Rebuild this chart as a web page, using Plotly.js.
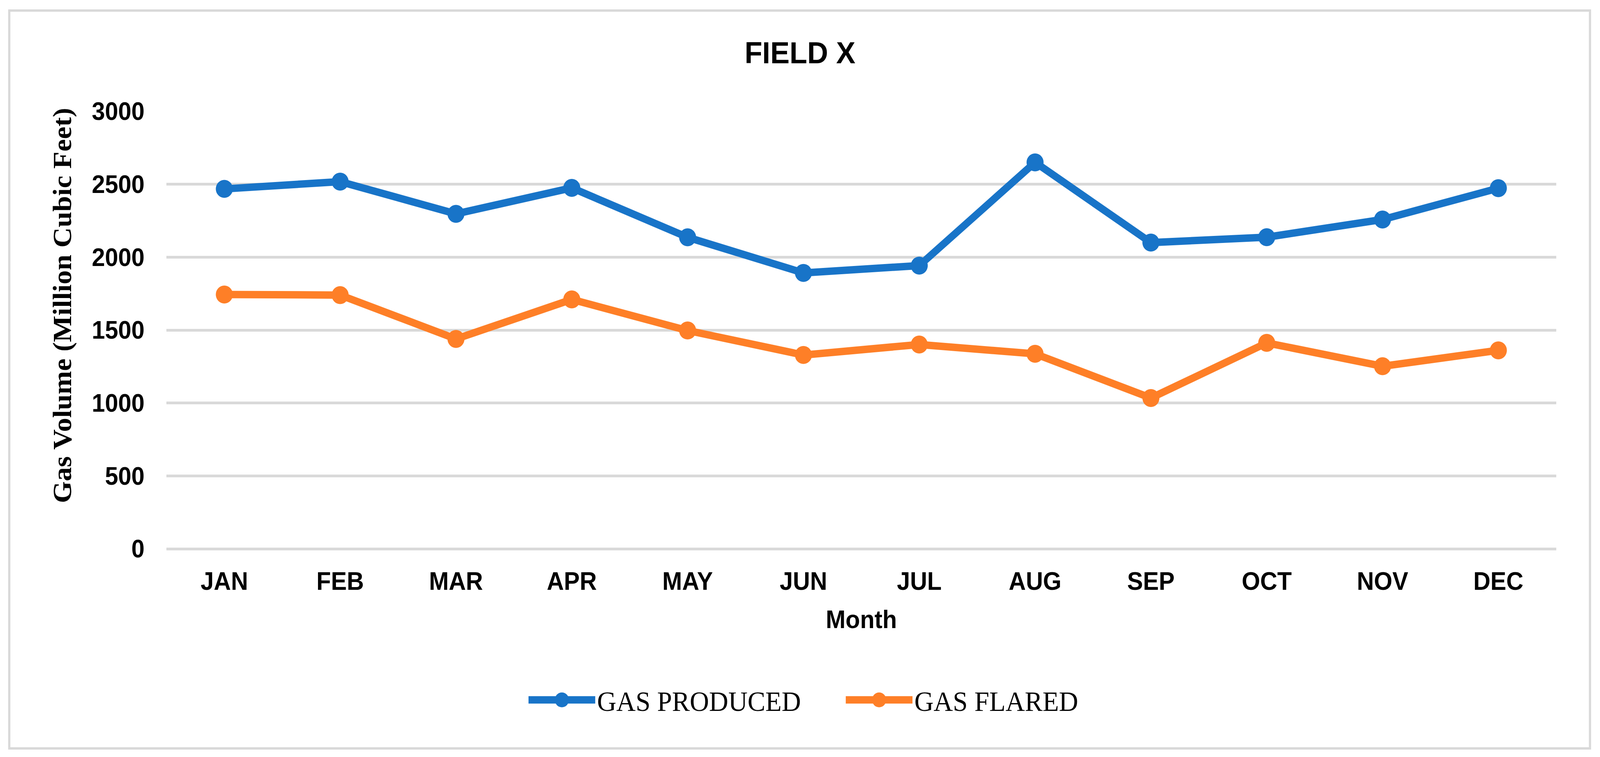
<!DOCTYPE html>
<html>
<head>
<meta charset="utf-8">
<script src="https://cdn.plot.ly/plotly-3.0.1.min.js"></script>
<style>
  html, body { margin: 0; padding: 0; background: #ffffff; overflow: hidden; }
  #chart { width: 4317px; height: 1938px; transform-origin: 0 0; }
</style>
</head>
<body>
<div id="chart"></div>
<script>
const months = ["JAN", "FEB", "MAR", "APR", "MAY", "JUN", "JUL", "AUG", "SEP", "OCT", "NOV", "DEC"];
const gasProduced = [2468, 2518, 2297, 2475, 2136, 1892, 1942, 2650, 2100, 2137, 2258, 2473];
const gasFlared = [1744, 1740, 1439, 1710, 1497, 1329, 1401, 1337, 1034, 1412, 1252, 1361];
const yTicks = [0, 500, 1000, 1500, 2000, 2500, 3000];

const seriesNames = ["GAS PRODUCED", "GAS FLARED"];
const seriesColors = ["#1874C8", "#FE7F27"];

const W = 4317, H = 1938;
const M = { l: 449, r: 118, t: 285, b: 533 };
const pw = W - M.l - M.r, ph = H - M.t - M.b;
function px2paperX(x) { return (x - M.l) / pw; }
function px2paperY(y) { return 1 - (y - M.t) / ph; }

// Fit the 4317x1938 design into whatever viewport the browser actually offers.
(function fitToViewport() {
  const vw = window.innerWidth || W, vh = window.innerHeight || H;
  const sx = Math.min(1, vw / W), sy = Math.min(1, vh / H);
  if (sx < 1 || sy < 1) {
    document.getElementById("chart").style.transform = "scale(" + sx + "," + sy + ")";
  }
})();

const traces = [gasProduced, gasFlared].map((vals, i) => ({
  type: "scatter",
  mode: "lines+markers",
  name: seriesNames[i],
  x: months,
  y: vals,
  line: { color: seriesColors[i], width: 19 },
  marker: { color: seriesColors[i], size: 46, symbol: "circle" }
}));

const layout = {
  width: W,
  height: H,
  margin: M,
  paper_bgcolor: "#ffffff",
  plot_bgcolor: "#ffffff",
  showlegend: true,
  title: {
    text: "FIELD X",
    font: { family: "Liberation Sans, Arial, sans-serif", size: 78, color: "#000000", weight: "bold" },
    x: 0.5,
    xref: "container",
    y: 1 - 135 / H,
    yref: "container",
    yanchor: "middle"
  },
  xaxis: {
    type: "category",
    categoryorder: "array",
    categoryarray: months,
    range: [-0.5, 11.5],
    showgrid: false,
    zeroline: false,
    showline: false,
    ticks: "",
    ticklabelstandoff: 40,
    tickfont: { family: "Liberation Sans, Arial, sans-serif", size: 64, color: "#000000", weight: "bold" },
    title: {
      text: "Month",
      font: { family: "Liberation Sans, Arial, sans-serif", size: 64, color: "#000000", weight: "bold" },
      standoff: 40
    },
    fixedrange: true
  },
  yaxis: {
    range: [0, 3000],
    tickvals: yTicks,
    ticktext: yTicks.map(String),
    showgrid: true,
    gridcolor: "#D9D9D9",
    gridwidth: 7,
    zeroline: true,
    zerolinecolor: "#D9D9D9",
    zerolinewidth: 7,
    showline: false,
    ticks: "",
    ticklabelstandoff: 58,
    tickfont: { family: "Liberation Sans, Arial, sans-serif", size: 64, color: "#000000", weight: "bold" },
    fixedrange: true
  },
  legend: {
    orientation: "h",
    xref: "container",
    yref: "container",
    x: 1421 / W,
    xanchor: "left",
    y: 1 - 1792 / H,
    yanchor: "middle",
    font: { family: "Liberation Serif, Times New Roman, serif", size: 72, color: "#000000" },
    itemwidth: 180,
    entrywidth: 661,
    entrywidthmode: "pixels",
    tracegroupgap: 0,
    bgcolor: "rgba(0,0,0,0)"
  },
  annotations: [
    {
      text: "Gas Volume (Million Cubic Feet)",
      xref: "paper",
      yref: "paper",
      x: px2paperX(168),
      y: px2paperY(782),
      xanchor: "center",
      yanchor: "middle",
      textangle: -90,
      showarrow: false,
      font: { family: "Liberation Serif, Times New Roman, serif", size: 72, color: "#000000", weight: "bold" }
    }
  ],
  shapes: [
    {
      type: "rect",
      xref: "paper",
      yref: "paper",
      x0: px2paperX(25),
      x1: px2paperX(4290),
      y0: px2paperY(1916),
      y1: px2paperY(27),
      line: { color: "#D9D9D9", width: 6 },
      fillcolor: "rgba(0,0,0,0)",
      layer: "below"
    }
  ]
};

Plotly.newPlot("chart", traces, layout, { displayModeBar: false, staticPlot: true }).then(function (gd) {
  gd.querySelectorAll(".legend .legendlines path").forEach(function (p) {
    p.style.strokeWidth = "19px";
  });
  gd.querySelectorAll(".legend .legendpoints path.scatterpts").forEach(function (p) {
    p.setAttribute("d", "M19,0A19,19 0 1,1 0,-19A19,19 0 0,1 19,0Z");
  });
});
</script>
</body>
</html>
